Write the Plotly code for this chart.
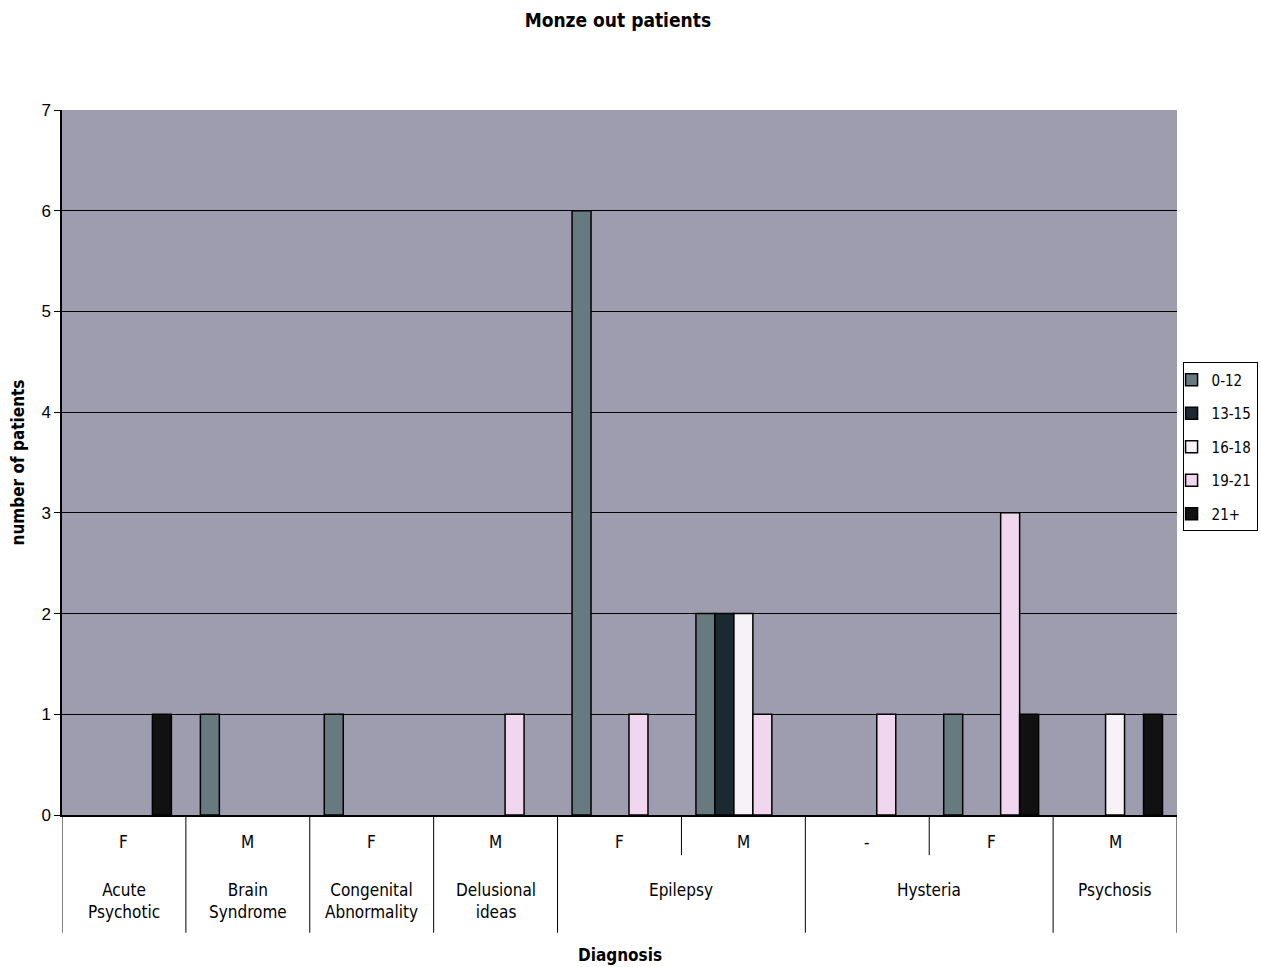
import plotly.graph_objects as go

# groups along the x axis (outer label = diagnosis, inner label = sex)
diagnosis = ["Acute<br>Psychotic", "Brain<br>Syndrome", "Congenital<br>Abnormality",
             "Delusional<br>ideas", "Epilepsy", "Epilepsy", "Hysteria", "Hysteria", "Psychosis"]
sex = ["F", "M", "F", "M", "F", "M", "-", "F", "M"]

age_groups = ["0-12", "13-15", "16-18", "19-21", "21+"]
n_0_12 = [0, 1, 1, 0, 6, 2, 0, 1, 0]
n_13_15 = [0, 0, 0, 0, 0, 2, 0, 0, 0]
n_16_18 = [0, 0, 0, 0, 0, 2, 0, 0, 1]
n_19_21 = [0, 0, 0, 1, 1, 1, 1, 3, 0]
n_21_plus = [1, 0, 0, 0, 0, 0, 0, 1, 1]

series = [n_0_12, n_13_15, n_16_18, n_19_21, n_21_plus]
colors = ["#677a80", "#1b2a30", "#f6f2f8", "#f0d6ee", "#111111"]

NARROW = "Liberation Sans Narrow, Arial Narrow, DejaVu Sans Condensed, sans-serif"

x_pos = list(range(len(sex)))

fig = go.Figure()
for name, vals, col in zip(age_groups, series, colors):
    fig.add_trace(go.Bar(
        x=x_pos, y=[v if v else None for v in vals], name=name, legendgroup=name,
        marker=dict(color=col, line=dict(color="black", width=1.5)),
    ))

annotations = []
shapes = []
# sex labels (top row)
for i, s in enumerate(sex):
    annotations.append(dict(x=i, y=-0.038, xref="x", yref="paper", yanchor="middle", text=s,
                            showarrow=False, font=dict(size=17, family=NARROW, color="black")))

# diagnosis labels (bottom row) centred over their run of groups, plus dividers
start = 0
for i in range(1, len(diagnosis) + 1):
    if i == len(diagnosis) or diagnosis[i] != diagnosis[start]:
        annotations.append(dict(x=(start + i - 1) / 2, y=-0.09, xref="x", yref="paper",
                                yanchor="top", text=diagnosis[start], showarrow=False,
                                font=dict(size=17, family=NARROW, color="black")))
        shapes.append(dict(type="line", xref="x", yref="paper", x0=i - 0.5, x1=i - 0.5,
                           y0=0, y1=-0.167, line=dict(color="black", width=1)))
        start = i
    else:
        shapes.append(dict(type="line", xref="x", yref="paper", x0=i - 0.5, x1=i - 0.5,
                           y0=0, y1=-0.057, line=dict(color="black", width=1)))
shapes.append(dict(type="line", xref="x", yref="paper", x0=-0.5, x1=-0.5,
                   y0=0, y1=-0.167, line=dict(color="black", width=1)))

annotations.append(dict(x=0.5, y=-0.215, xref="paper", yref="paper", text="<b>Diagnosis</b>",
                        showarrow=False, font=dict(size=17, family=NARROW, color="black")))

fig.update_layout(
    width=1261, height=967,
    paper_bgcolor="white", plot_bgcolor="#9e9daf",
    margin=dict(l=62, r=84, t=110, b=152, autoexpand=False),
    title=dict(text="<b>Monze out patients</b>", x=0.49, xanchor="center",
               y=0.979, yanchor="middle",
               font=dict(size=19, family=NARROW, color="black")),
    barmode="group", bargap=0.234, bargroupgap=0,
    xaxis=dict(range=[-0.5, 8.5], showticklabels=False, showgrid=False, zeroline=False,
               showline=True, linecolor="black", linewidth=1.5, ticks=""),
    yaxis=dict(range=[0, 7], dtick=1, showgrid=True, gridcolor="black", gridwidth=1,
               zeroline=False, showline=True, linecolor="black", linewidth=1.5,
               ticks="outside", ticklen=6, tickcolor="black",
               tickfont=dict(size=17, family="Liberation Sans, Arial, sans-serif", color="black"),
               title=dict(text="<b>number of patients</b>", standoff=12,
                          font=dict(size=17, family=NARROW, color="black"))),
    legend=dict(x=1.005, xanchor="left", y=0.522, yanchor="middle",
                bgcolor="white", bordercolor="black", borderwidth=1,
                font=dict(size=15, family=NARROW, color="black"),
                itemwidth=30, tracegroupgap=11, indentation=-12),
    annotations=annotations, shapes=shapes,
)

fig.write_html("out.html", config={"displayModeBar": False},
               post_script="document.body.style.margin='0';")
